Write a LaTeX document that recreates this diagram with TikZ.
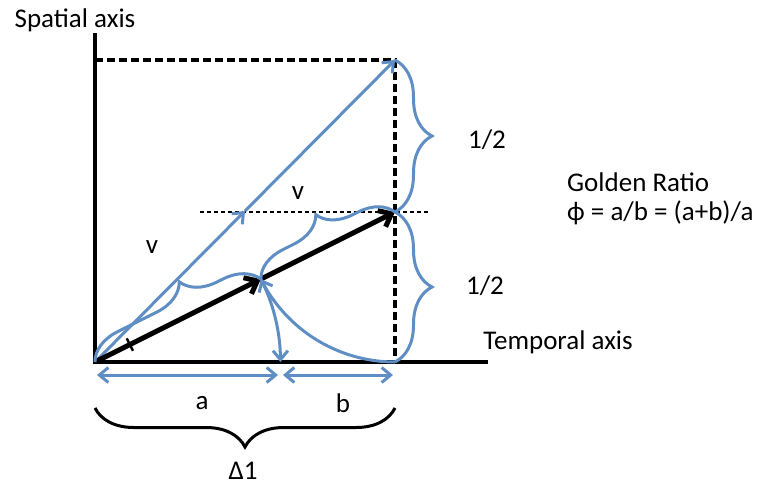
\documentclass[tikz,border=0pt]{standalone}
\usepackage{fontspec}
\setmainfont{Carlito}
\usepackage{xcolor}
\usepackage{tikz}
\usetikzlibrary{arrows.meta,positioning,calc,decorations.pathreplacing}
\definecolor{ratioblue}{RGB}{95,142,196}

\begin{document}
\begin{tikzpicture}[x=1pt, y=-1pt,
  every node/.style={font=\fontsize{27}{29}\selectfont, inner sep=1pt},
  axis/.style={black, line width=3.5pt},
  guide/.style={black, line width=3.2pt, dash pattern=on 8pt off 4pt},
  thinguide/.style={black, line width=1.4pt, dash pattern=on 4pt off 3pt},
  blueline/.style={ratioblue, line width=3pt},
  bluebrace/.style={ratioblue, line width=3pt, decorate},
  barb/.style={-{Straight Barb[length=9pt,width=15pt]}},
  dbarb/.style={{Straight Barb[length=9pt,width=15pt]}-{Straight Barb[length=9pt,width=15pt]}}]
  \useasboundingbox (0,0) rectangle (765,485);
  % points of the construction
  \coordinate (o) at (95,362);
  \coordinate (t) at (395,60);
  \coordinate (q) at (395,212);
  \coordinate (b) at (395,362);
  \coordinate (p) at ($(o)!0.5528!(q)$);
  \coordinate (a) at ($(o)+(185.4,0)$);
  \coordinate (m) at ($(o)!0.5!(t)$);
  \coordinate (tk) at ($(o)!0.21!(p)$);
  % axes and guides
  \draw[axis] (95,33) -- (o) -- (488,362);
  \draw[guide] (95,60) -- (t) -- (b);
  \draw[thinguide] (200,212) -- (430,212);
  % blue diagonal
  \draw[blueline, barb] (o) -- (m);
  \draw[blueline, barb] (m) -- (t);
  % black vector
  \draw[black, line width=5pt, -{Straight Barb[length=11pt,width=18pt]}] (o) -- (p);
  \draw[black, line width=5pt, -{Straight Barb[length=11pt,width=18pt]}] (p) -- (q);
  \draw[black, line width=2.5pt] ($(tk)!7pt!90:(p)$) -- ($(tk)!7pt!-90:(p)$);
  % arcs
  \draw[blueline] (b) arc[start angle=270, end angle=206.57, radius=150pt];
  \draw[blueline, dbarb] (a) arc[start angle=0, end angle=26.57, radius=185.4pt];
  % lengths a and b
  \draw[blueline, dbarb] (97,375) -- (278,375);
  \draw[blueline, dbarb] (283,375) -- (393,375);
  % braces
  \draw[bluebrace, decoration={brace, amplitude=34pt, aspect=0.6}] (o) -- (p);
  \draw[bluebrace, decoration={brace, amplitude=33pt, aspect=0.52}] (p) -- (q);
  \draw[bluebrace, decoration={brace, amplitude=37pt}] (t) -- (q);
  \draw[bluebrace, decoration={brace, amplitude=37pt}] (q) -- (b);
  \draw[black, line width=3pt, decorate, decoration={brace, amplitude=39pt}] (395,408) -- (95,408);
  % labels
  \node (spatial) at (75,20) {Spatial axis};
  \node (temporal) at (558,342) {Temporal axis};
  \node[anchor=west, align=left] (golden) at (566,199) {Golden Ratio\\ϕ = a/b = (a+b)/a};
  \node (half1) at (487,140) {1/2};
  \node (half2) at (485,286) {1/2};
  \node (vlow) at (152,247) {v};
  \node (vhigh) at (298,193) {v};
  \node (la) at (202,403) {a};
  \node (lb) at (343,403) {b};
  \node (delta) at (243,471) {Δ1};
\end{tikzpicture}
\end{document}
